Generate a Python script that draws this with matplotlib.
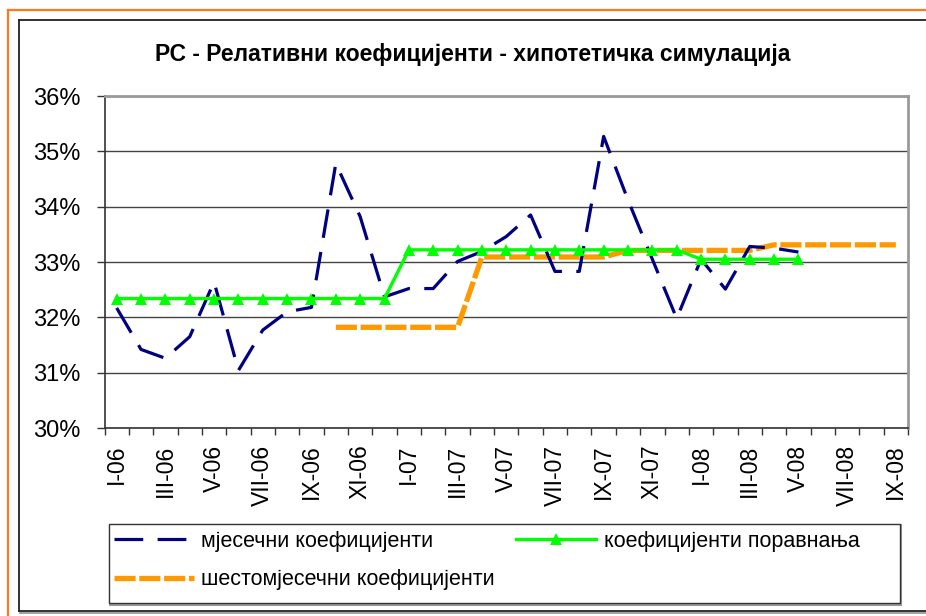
import matplotlib
matplotlib.use("Agg")
import matplotlib.pyplot as plt
from matplotlib.lines import Line2D
from matplotlib.patches import Rectangle
import numpy as np

plt.rcParams['font.family'] = ['Liberation Sans', 'DejaVu Sans']

# months I-06 .. IX-08
months = ['I-06', 'II-06', 'III-06', 'IV-06', 'V-06', 'VI-06', 'VII-06', 'VIII-06',
          'IX-06', 'X-06', 'XI-06', 'XII-06',
          'I-07', 'II-07', 'III-07', 'IV-07', 'V-07', 'VI-07', 'VII-07', 'VIII-07',
          'IX-07', 'X-07', 'XI-07', 'XII-07',
          'I-08', 'II-08', 'III-08', 'IV-08', 'V-08', 'VI-08', 'VII-08', 'VIII-08',
          'IX-08']

# monthly coefficients (I-06 .. V-08), in %
monthly = [32.17, 31.42, 31.26, 31.65, 32.64, 31.04, 31.77, 32.10, 32.18, 34.78,
           33.82, 32.37, 32.52, 32.52, 33.01, 33.19, 33.46, 33.85, 32.83, 32.83,
           35.27, 34.12, 33.05, 31.98, 33.05, 32.51, 33.28, 33.25, 33.18]

# smoothing coefficients (I-06 .. V-08)
smoothed = [32.34] * 12 + [33.22] * 12 + [33.05] * 5

# six-month coefficients (X-06 .. IX-08)
six_start = 9
six_month = [31.82] * 6 + [33.09] * 6 + [33.21] * 6 + [33.31] * 6

title = 'РС - Релативни коефицијенти - хипотетичка симулација'
lbl_monthly = 'мјесечни коефицијенти'
lbl_smooth = 'коефицијенти поравнања'
lbl_six = 'шестомјесечни коефицијенти'

W, H = 926, 616
fig = plt.figure(figsize=(W / 100, H / 100), dpi=100)
fig.patch.set_facecolor('white')


def fx(px):
    return px / W


def fy(py):
    return 1 - py / H


# outer frames
orange = '#FF7A1E'
fig.add_artist(Line2D([fx(8), fx(930)], [fy(9.5), fy(9.5)], color=orange, lw=1.6))
fig.add_artist(Line2D([fx(8), fx(8)], [fy(9.5), fy(620)], color=orange, lw=1.6))
fig.add_artist(Line2D([fx(19), fx(930)], [fy(20), fy(20)], color='#222222', lw=1.3))
fig.add_artist(Line2D([fx(19), fx(19)], [fy(20), fy(611)], color='#222222', lw=1.3))
fig.add_artist(Line2D([fx(19), fx(930)], [fy(611), fy(611)], color='#222222', lw=1.3))
fig.add_artist(Line2D([fx(20), fx(930)], [fy(613), fy(613)], color='#999999', lw=1.3))

ax = fig.add_axes([fx(104.5), fy(428), fx(908) - fx(104.5), fy(96) - fy(428)])

x_all = np.arange(len(months))
x_m = x_all[:len(monthly)]
x_s = x_all[:len(smoothed)]
x_six = x_all[six_start:six_start + len(six_month)]

ax.plot(x_six, six_month, color='#FF9900', lw=3.8, linestyle=(0, (4, 0.7)),
        solid_capstyle='butt', zorder=3, label=lbl_six)
ax.plot(x_m, monthly, color='#000080', lw=2.3, linestyle=(0, (9, 4.5)),
        zorder=4, label=lbl_monthly)
ax.plot(x_s, smoothed, color='#00FF00', lw=2.4, marker='^', markersize=9,
        markeredgewidth=0, zorder=5, label=lbl_smooth)

ax.set_xlim(-0.5, len(months) - 0.5)
ax.set_ylim(30, 36)

ax.set_yticks(np.arange(30, 37, 1))
ax.set_yticklabels(['%d%%' % v for v in range(30, 37)])
ax.tick_params(axis='y', direction='out', length=6, width=1, color='#333333',
               labelsize=17, pad=11)
ax.grid(axis='y', color='#444444', lw=1)

ax.set_xticks(np.arange(-0.5, len(months), 1))
ax.set_xticklabels([])
ax.tick_params(axis='x', which='major', direction='out', length=5, width=1,
               color='#333333')
ax.set_xticks(x_all[::2], minor=True)
ax.set_xticklabels(months[::2], minor=True, rotation=90, fontsize=16.5)
ax.tick_params(axis='x', which='minor', length=0, pad=12)

for side in ['left', 'bottom']:
    ax.spines[side].set_color('#333333')
    ax.spines[side].set_linewidth(1.2)
for side in ['top', 'right']:
    ax.spines[side].set_color('#9a9a9a')
    ax.spines[side].set_linewidth(2)

fig.text(fx(472.5), fy(54), title, ha='center', va='center', fontsize=16.5,
         fontweight='bold')

# legend box
fig.add_artist(Rectangle((fx(110), fy(605)), fx(901) - fx(110), fy(525) - fy(605),
                         facecolor='none', edgecolor='#999999', lw=1.5))
fig.add_artist(Rectangle((fx(109), fy(603)), fx(900) - fx(109), fy(524) - fy(603),
                         facecolor='white', edgecolor='#333333', lw=1))

h, l = ax.get_legend_handles_labels()
order = [1, 0, 2]
leg = fig.legend([h[i] for i in order], [l[i] for i in order], ncol=2,
                 loc='upper left', bbox_to_anchor=(fx(114), fy(531)),
                 frameon=False, fontsize=15.5, borderpad=0, borderaxespad=0,
                 handlelength=3.7, handletextpad=0.35, labelspacing=0.8,
                 columnspacing=1.0)
leg.set_zorder(10)

fig.savefig('out.png', dpi=100, facecolor='white')
